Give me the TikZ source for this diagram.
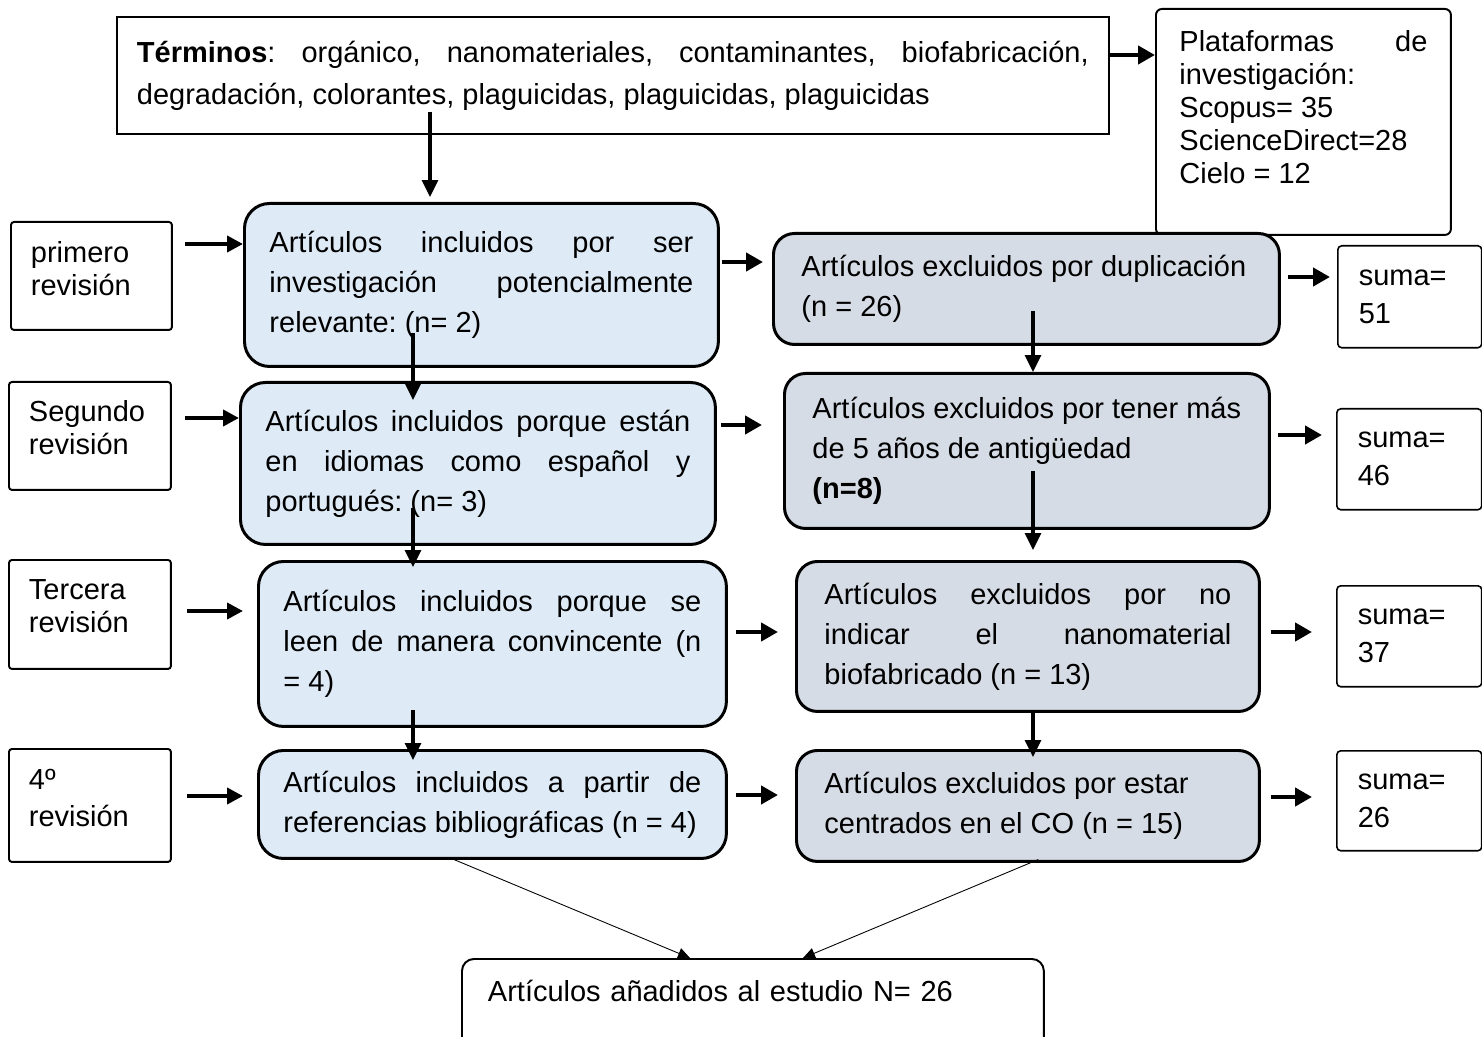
\documentclass[tikz,border=0pt]{standalone}
\usepackage{fontspec}
\setmainfont{Liberation Sans}
\usetikzlibrary{arrows.meta, calc}
\definecolor{inclfill}{HTML}{DEEBF7}
\definecolor{exclfill}{HTML}{D6DCE5}
\newcommand\lowpad[1]{\rule[-#1]{0pt}{#1}}
\frenchspacing

\tikzset{
    cell/.style={draw, anchor=north west, line width=1.1pt, inner ysep=0pt, align=left,
        font=\fontsize{16.5}{18.8}\selectfont},
    termbox/.style={cell, align=justify, inner xsep=0.4cm, font=\fontsize{16.5}{23.9}\selectfont},
    srcbox/.style={cell, rounded corners=0.12cm, align=justify, inner xsep=0.47cm},
    revbox/.style={cell, rounded corners=0.06cm, inner xsep=0.4cm},
    incl/.style={cell, line width=1.7pt, rounded corners=0.5cm, fill=inclfill, align=justify,
        inner xsep=0.5cm, font=\fontsize{16.5}{22.8}\selectfont},
    excl/.style={incl, fill=exclfill, rounded corners=0.42cm, inner xsep=0.56cm},
    sumbox/.style={cell, line width=0.9pt, rounded corners=0.08cm, inner xsep=0.42cm,
        font=\fontsize{16.5}{21.6}\selectfont},
    endbox/.style={cell, rounded corners=0.24cm, inner xsep=0.52cm},
    wide arrow/.style={-{Triangle[length=0.34cm,width=0.36cm]}, line width=2.8pt},
    side arrow/.style={-{Triangle[length=0.32cm,width=0.32cm]}, line width=2.2pt},
    down arrow/.style={-{Triangle[length=0.34cm,width=0.32cm]}, line width=1.8pt},
    thin arrow/.style={-{Triangle[length=0.24cm,width=0.22cm]}, line width=0.5pt},
}

\begin{document}
\begin{tikzpicture}[x=0.02cm, y=-0.02cm]
    \useasboundingbox (0,0) rectangle (1482,1037);

    % search terms and sources
    \node[termbox, minimum width=19.84cm, minimum height=2.34cm, text width=19.04cm] (t) at (116,16)
        {\textbf{Términos}: orgánico, nanomateriales, contaminantes, biofabricación,\linebreak
         degradación, colorantes, plaguicidas, plaguicidas, plaguicidas};
    \node[srcbox, minimum width=5.9cm, minimum height=4.52cm, text width=4.96cm] (p) at (1155,8)
        {Plataformas de\linebreak investigación:\\ Scopus= 35\\ ScienceDirect=28\\ Cielo = 12\lowpad{0.6cm}};

    % review stages
    \node[revbox, minimum width=3.22cm, minimum height=2.16cm, text width=2.42cm] (l1) at (10,221)
        {primero\\ revisión\lowpad{0.28cm}};
    \node[revbox, minimum width=3.24cm, minimum height=2.16cm, text width=2.44cm] (l2) at (8,381)
        {Segundo\\ revisión\lowpad{0.34cm}};
    \node[revbox, minimum width=3.24cm, minimum height=2.18cm, text width=2.44cm] (l3) at (8,559)
        {Tercera\\ revisión\lowpad{0.32cm}};
    \node[revbox, minimum width=3.24cm, minimum height=2.26cm, text width=2.44cm] (l4) at (8,748)
        {4º\\[2pt] revisión\lowpad{0.3cm}};

    % included
    \node[incl, minimum width=9.48cm, minimum height=3.26cm, text width=8.48cm] (b1) at (243,202)
        {Artículos incluidos por ser\linebreak investigación potencialmente\linebreak relevante: (n= 2)};
    \node[incl, minimum width=9.5cm, minimum height=3.24cm, text width=8.5cm] (b2) at (239,381)
        {Artículos incluidos porque están\linebreak en idiomas como español y\linebreak portugués: (n= 3)};
    \node[incl, minimum width=9.36cm, minimum height=3.3cm, text width=8.36cm] (b3) at (257,560)
        {Artículos incluidos porque se\linebreak leen de manera convincente (n\linebreak = 4)};
    \node[incl, minimum width=9.36cm, minimum height=2.16cm, text width=8.36cm] (b4) at (257,749)
        {Artículos incluidos a partir de\linebreak referencias bibliográficas (n = 4)};

    % excluded
    \node[excl, minimum width=10.12cm, minimum height=2.22cm, text width=9cm] (g1) at (772,232)
        {Artículos excluidos por duplicación\\ (n = 26)};
    \node[excl, minimum width=9.7cm, minimum height=3.1cm, text width=8.58cm] (g2) at (783,372)
        {Artículos excluidos por tener más\\ de 5 años de antigüedad\\ \textbf{(n=8)}};
    \node[excl, minimum width=9.26cm, minimum height=3cm, text width=8.14cm] (g3) at (795,560)
        {Artículos excluidos por no\linebreak indicar el nanomaterial\linebreak biofabricado (n = 13)};
    \node[excl, minimum width=9.26cm, minimum height=2.22cm, text width=8.14cm] (g4) at (795,749)
        {Artículos excluidos por estar\\ centrados en el CO (n = 15)};

    % running totals
    \node[sumbox, minimum width=2.88cm, minimum height=2.04cm, text width=2.04cm] (s1) at (1337,245)
        {suma=\\ 51};
    \node[sumbox, minimum width=2.9cm, minimum height=2.02cm, text width=2.06cm] (s2) at (1336,408)
        {suma=\\ 46};
    \node[sumbox, minimum width=2.9cm, minimum height=2.02cm, text width=2.06cm] (s3) at (1336,585)
        {suma=\\ 37};
    \node[sumbox, minimum width=2.9cm, minimum height=2cm, text width=2.06cm] (s4) at (1336,750)
        {suma=\\ 26};

    \node[endbox, minimum width=11.64cm, minimum height=1.9cm, text width=10.6cm] (fin) at (461,958)
        {Artículos añadidos al estudio N= 26\lowpad{0.62cm}};

    % columns of the vertical arrows
    \coordinate (va) at (430,0);
    \coordinate (vb) at (413,0);
    \coordinate (vg) at (1033,0);

    \coordinate (h0) at (0,55);
    \draw[wide arrow] (t.east |- h0) -- (p.west |- h0);

    \foreach \from/\to/\row/\pre/\post in {
        l1/b1/244/0.24/0,
        l2/b2/418/0.26/0,
        l3/b3/611/0.3/0.28,
        l4/b4/796/0.3/0.28}{
        \coordinate (h) at (0,\row);
        \draw[side arrow, shorten <=\pre cm, shorten >=\post cm] (\from.east |- h) -- (\to.west |- h);
    }

    \foreach \from/\to/\row/\pre/\post in {
        b1/g1/262/0.04/0.18,
        b2/g2/425/0.08/0.42,
        b3/g3/632/0.16/0.34,
        b4/g4/795/0.16/0.34,
        g1/s1/277/0.14/0.14,
        g2/s2/435/0.14/0.28,
        g3/s3/632/0.2/0.48,
        g4/s4/797/0.2/0.48}{
        \coordinate (h) at (0,\row);
        \draw[wide arrow, shorten <=\pre cm, shorten >=\post cm] (\from.east |- h) -- (\to.west |- h);
    }

    \foreach \from/\to/\col/\pre/\post in {
        t/b1/va/-0.46/0.1,
        b1/b2/vb/-0.7/-0.38,
        b2/b3/vb/-0.76/-0.14,
        b3/b4/vb/-0.36/-0.22,
        g1/g2/vg/-0.7/0,
        g2/g3/vg/-1.18/0.2,
        g3/g4/vg/0/-0.16}{
        \draw[down arrow, shorten <=\pre cm, shorten >=\post cm] (\from.south -| \col) -- (\to.north -| \col);
    }

    % into the final count
    \coordinate (m1) at (455,0);
    \coordinate (m2) at (690,0);
    \coordinate (m3) at (1030,0);
    \coordinate (m4) at (803,0);
    \draw[thin arrow, shorten <=-0.1cm] (b4.south -| m1) -- (fin.north -| m2);
    \draw[thin arrow, shorten <=-0.18cm] (g4.south -| m3) -- (fin.north -| m4);
\end{tikzpicture}
\end{document}
